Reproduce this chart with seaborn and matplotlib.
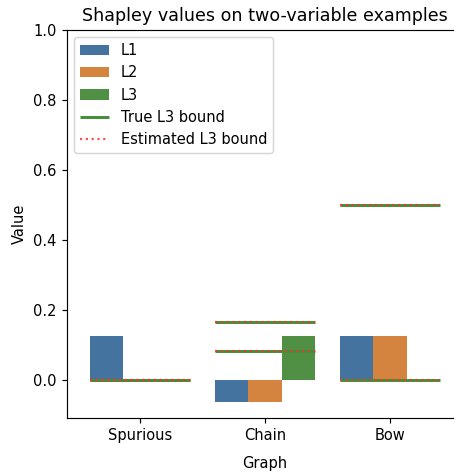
import matplotlib
matplotlib.use("Agg")
import matplotlib.pyplot as plt
import pandas as pd
import seaborn as sns

graphs = ["Spurious", "Chain", "Bow"]
series = ["L1", "L2", "L3"]
l1_values = [0.125, -0.0625, 0.125]
l2_values = [0.0, -0.0625, 0.125]
l3_values = [0.0, 0.125, 0.0]

# lower / upper L3 bounds per graph
true_bounds = [[0.0, 0.0], [1 / 12, 1 / 6], [0.0, 0.5]]
est_bounds = [[0.0, 0.0], [1 / 12, 1 / 6], [0.0, 0.5]]

palette = ["#44739f", "#d5843f", "#4f9044"]

df = pd.DataFrame({
    "Graph": graphs * 3,
    "Variable": [s for s in series for _ in graphs],
    "Value": l1_values + l2_values + l3_values,
})

DPI = 105
fig = plt.figure(figsize=(454 / DPI, 473 / DPI), dpi=DPI)
ax = fig.add_axes([0.147, 0.117, 0.873, 0.82])

sns.barplot(data=df, x="Graph", y="Value", hue="Variable", order=graphs,
            hue_order=series, palette=palette, saturation=1, ax=ax, zorder=2)

half = 0.4
for i, g in enumerate(graphs):
    ax.hlines(true_bounds[i], i - half, i + half, colors="#3f8f36",
              linestyles="-", linewidth=2, zorder=3,
              label="True L3 bound" if i == 0 else None)
    ax.hlines(est_bounds[i], i - half, i + half, colors="#ff3030",
              linestyles=":", linewidth=1.5, alpha=0.85, zorder=4,
              label="Estimated L3 bound" if i == 0 else None)

ax.set_ylim(-0.108, 1.0)
ax.set_xlim(-0.584, 2.584)
ax.set_title("Shapley values on two-variable examples", fontsize=12)
ax.set_xlabel("Graph", labelpad=9)
ax.set_ylabel("Value")
ax.spines["right"].set_visible(False)

handles, labels = ax.get_legend_handles_labels()
ax.legend(handles, labels, loc="upper left")

fig.savefig("out.png", dpi=DPI)
